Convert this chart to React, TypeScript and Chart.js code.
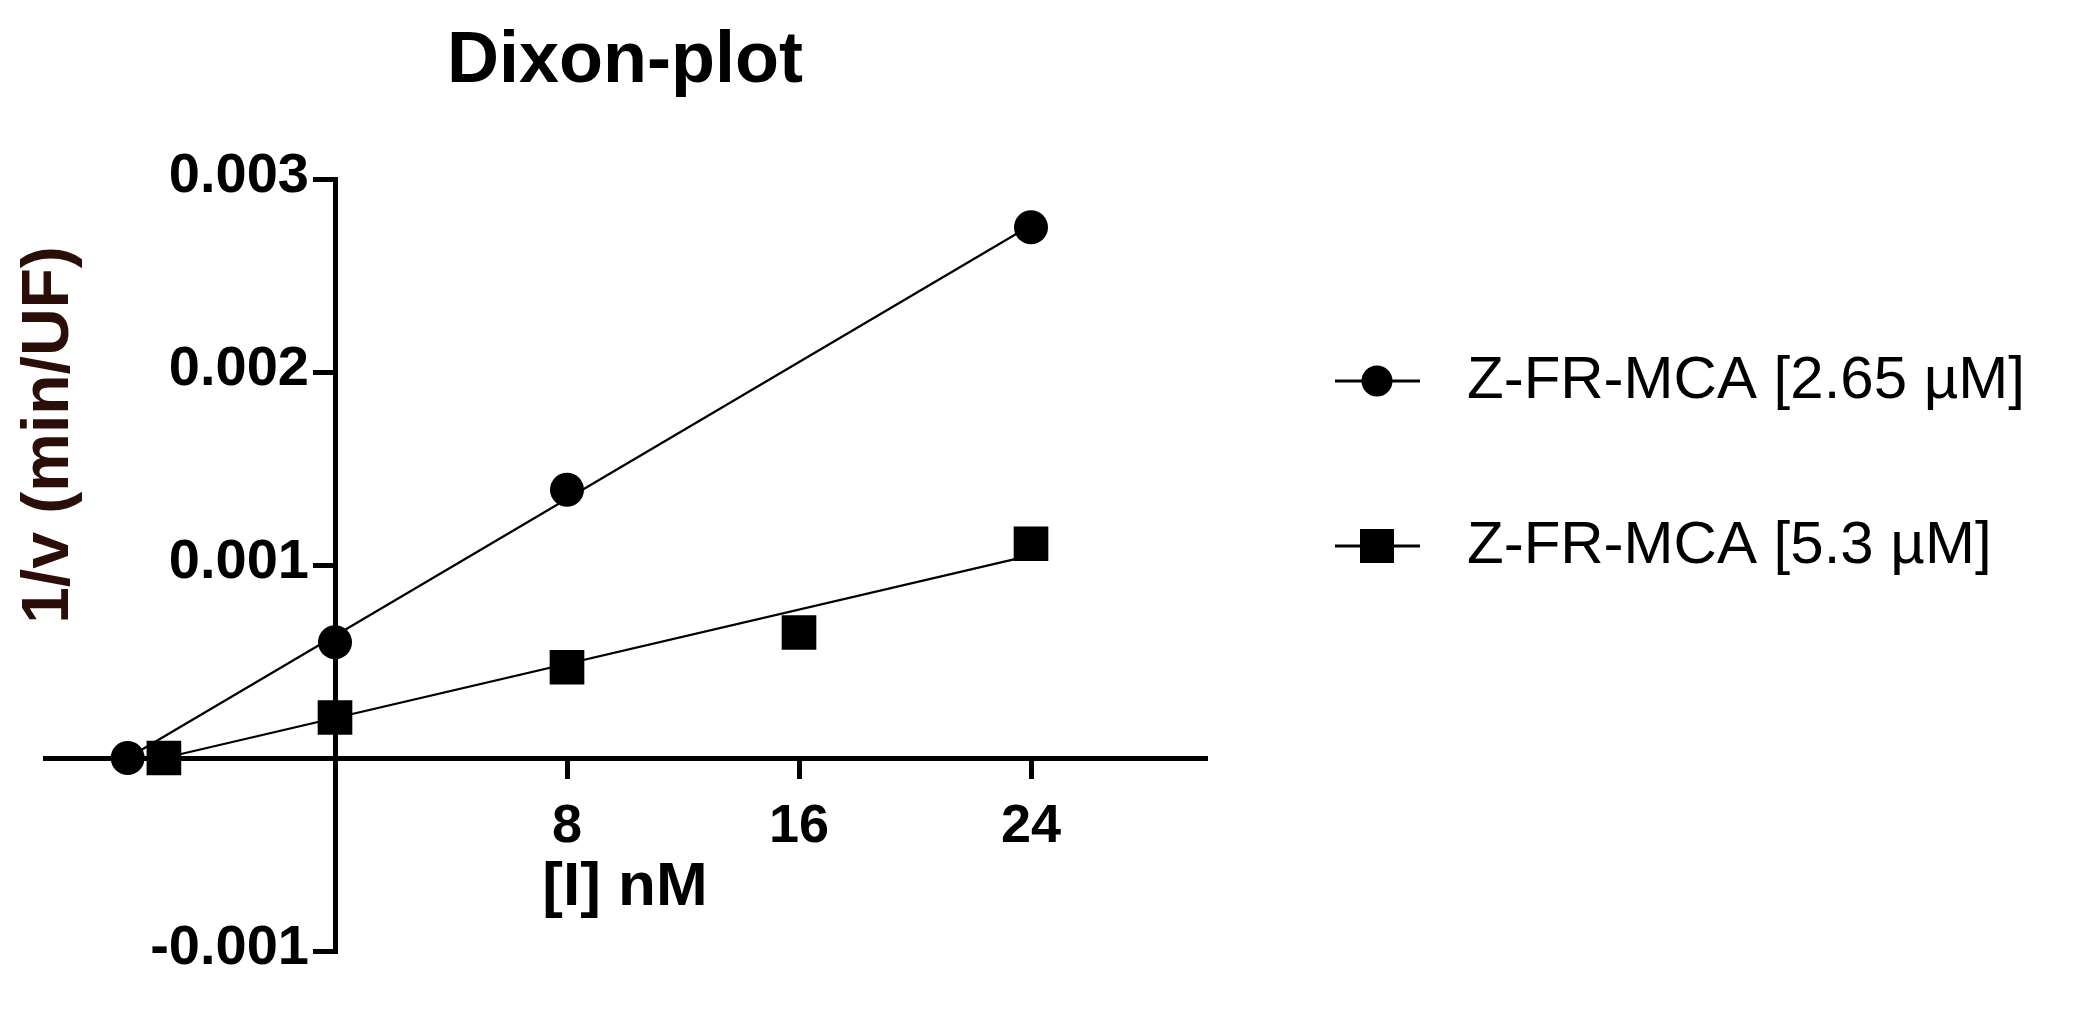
import { useEffect, useRef } from 'react';
import { Chart, registerables } from 'chart.js';

Chart.register(...registerables);

// ---- data ----
const seriesLabels = ['Z-FR-MCA [2.65 µM]', 'Z-FR-MCA [5.3 µM]'];
const circleX = [-7.15, 0, 8, 24];
const circleY = [0, 0.0006, 0.00139, 0.00275];
const squareX = [-5.9, 0, 8, 16, 24];
const squareY = [0, 0.00021, 0.00047, 0.00065, 0.00111];
const circleFitX = [-7.15, 24];
const circleFitY = [0.0, 0.00276];
const squareFitX = [-5.9, 24];
const squareFitY = [0.0, 0.00105];
const xTicks = [8, 16, 24];
const xTickLabels = ['8', '16', '24'];
const yTicks = [-0.001, 0.001, 0.002, 0.003];
const yTickLabels = ['-0.001', '0.001', '0.002', '0.003'];
const titleText = 'Dixon-plot';
const xTitleText = '[I] nM';
const yTitleText = '1/v (min/UF)';

const FONT = '"Liberation Sans", Arial, Helvetica, sans-serif';

const decorPlugin = {
  id: 'decor',
  afterDraw(chart: any) {
    const ctx = chart.ctx as CanvasRenderingContext2D;
    const xs = chart.scales.x;
    const ys = chart.scales.y;
    const area = chart.chartArea;
    const x0 = xs.getPixelForValue(0);
    ctx.save();
    ctx.fillStyle = '#000';

    // title
    ctx.font = `bold 72px ${FONT}`;
    ctx.textAlign = 'center';
    ctx.textBaseline = 'alphabetic';
    ctx.fillText(titleText, (area.left + area.right) / 2, 82);

    // y tick labels (left of the axis that sits at x = 0)
    ctx.font = `bold 56px ${FONT}`;
    ctx.textAlign = 'right';
    ctx.textBaseline = 'middle';
    yTicks.forEach((v, i) => {
      ctx.fillText(yTickLabels[i], x0 - 26, ys.getPixelForValue(v) - 2);
    });

    // x title
    ctx.font = `bold 62px ${FONT}`;
    ctx.textAlign = 'center';
    ctx.textBaseline = 'alphabetic';
    ctx.fillText(xTitleText, (area.left + area.right) / 2, 905);

    // y title
    ctx.save();
    ctx.translate(50, 435);
    ctx.rotate(-Math.PI / 2);
    ctx.fillStyle = '#2b0e08';
    ctx.font = `bold 66px ${FONT}`;
    ctx.textAlign = 'center';
    ctx.textBaseline = 'middle';
    ctx.fillText(yTitleText, 0, 0);
    ctx.restore();

    // legend
    const rows = [381, 546];
    chart.data.datasets.slice(0, 2).forEach((ds: any, i: number) => {
      const y = rows[i];
      ctx.strokeStyle = '#000';
      ctx.lineWidth = 3;
      ctx.beginPath();
      ctx.moveTo(1335, y);
      ctx.lineTo(1420, y);
      ctx.stroke();
      ctx.fillStyle = '#000';
      if (ds.pointStyle === 'rect') {
        ctx.fillRect(1377 - 17, y - 17, 34, 34);
      } else {
        ctx.beginPath();
        ctx.arc(1377, y, 15.5, 0, Math.PI * 2);
        ctx.fill();
      }
      ctx.font = `60px ${FONT}`;
      ctx.textAlign = 'left';
      ctx.textBaseline = 'middle';
      ctx.fillText(ds.label, 1467, y);
    });
    ctx.restore();
  },
};

export default function App() {
  const ref = useRef<HTMLCanvasElement | null>(null);

  useEffect(() => {
    document.body.style.margin = '0';
    document.body.style.overflow = 'hidden';
    const canvas = ref.current;
    if (!canvas) return;
    const chart = new Chart(canvas, {
      type: 'scatter',
      data: {
        datasets: [
          {
            label: seriesLabels[0],
            data: circleX.map((x, i) => ({ x, y: circleY[i] })),
            pointStyle: 'circle',
            pointRadius: 17,
            pointBackgroundColor: '#000',
            pointBorderColor: '#000',
            pointBorderWidth: 0,
            showLine: false,
            order: 1,
          },
          {
            label: seriesLabels[1],
            data: squareX.map((x, i) => ({ x, y: squareY[i] })),
            pointStyle: 'rect',
            pointRadius: 24.5,
            pointBackgroundColor: '#000',
            pointBorderColor: '#000',
            pointBorderWidth: 0,
            showLine: false,
            order: 1,
          },
          {
            label: 'fit1',
            data: circleFitX.map((x, i) => ({ x, y: circleFitY[i] })),
            showLine: true,
            pointRadius: 0,
            borderColor: '#000',
            borderWidth: 2.2,
            order: 2,
          },
          {
            label: 'fit2',
            data: squareFitX.map((x, i) => ({ x, y: squareFitY[i] })),
            showLine: true,
            pointRadius: 0,
            borderColor: '#000',
            borderWidth: 2.2,
            order: 2,
          },
        ],
      } as any,
      options: {
        animation: false,
        responsive: false,
        devicePixelRatio: 1,
        events: [],
        layout: { padding: { left: 45, right: 2082 - 1205, top: 179, bottom: 1033 - 951 } },
        plugins: {
          legend: { display: false },
          tooltip: { enabled: false },
          title: { display: false },
        },
        scales: {
          x: {
            type: 'linear',
            min: -10,
            max: 30,
            position: { y: 0 } as any,
            afterBuildTicks: (s: any) => {
              s.ticks = xTicks.map((v) => ({ value: v }));
            },
            grid: {
              display: true,
              drawOnChartArea: false,
              drawTicks: true,
              tickLength: 18,
              lineWidth: 5,
              tickWidth: 5,
              tickColor: '#000',
              color: '#000',
            },
            border: { display: true, color: '#000', width: 5 },
            ticks: {
              color: '#000',
              padding: 19,
              autoSkip: false,
              maxRotation: 0,
              font: { family: FONT, weight: 'bold', size: 54 },
              callback: (v: any) => {
                const i = xTicks.indexOf(Number(v));
                return i >= 0 ? xTickLabels[i] : '';
              },
            },
          },
          y: {
            type: 'linear',
            min: -0.001,
            max: 0.003,
            position: { x: 0 } as any,
            afterBuildTicks: (s: any) => {
              s.ticks = yTicks.map((v) => ({ value: v }));
            },
            grid: {
              display: true,
              drawOnChartArea: false,
              drawTicks: true,
              tickLength: 20,
              lineWidth: 5,
              tickWidth: 5,
              tickColor: '#000',
              color: '#000',
            },
            border: { display: true, color: '#000', width: 5 },
            ticks: { display: false },
          },
        },
      } as any,
      plugins: [decorPlugin],
    });
    return () => chart.destroy();
  }, []);

  return (
    <div style={{ position: 'fixed', left: 0, top: 0, width: 2082, height: 1033, background: '#fff' }}>
      <canvas ref={ref} width={2082} height={1033} style={{ display: 'block' }} />
    </div>
  );
}
